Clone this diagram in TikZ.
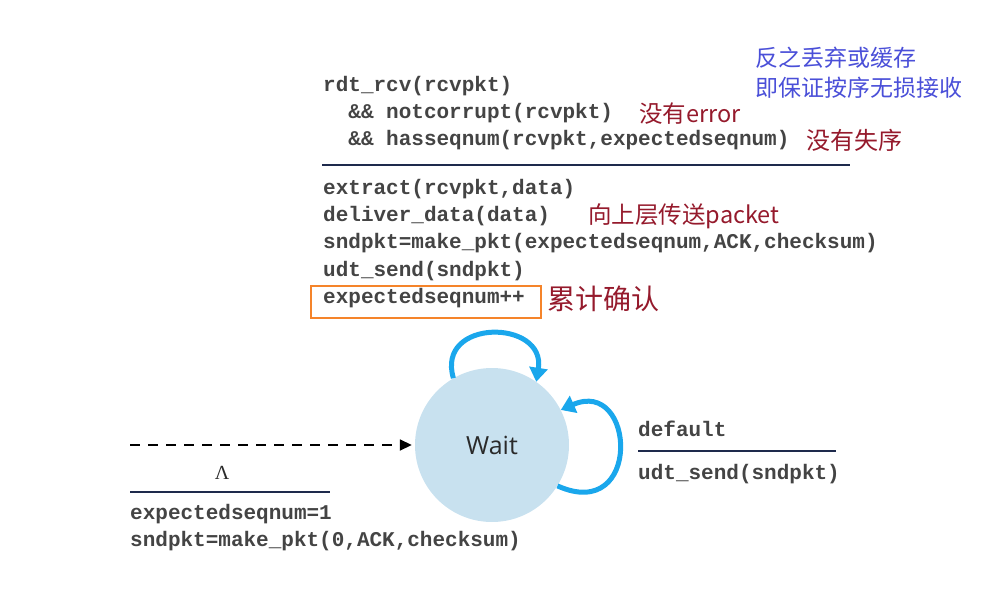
\documentclass[tikz,border=0pt]{standalone}
\usepackage{fontspec}
\usepackage{tikz}
\usetikzlibrary{
  arrows.meta,
  positioning,
  calc
}
\newfontfamily\codefont{Liberation Mono}[BoldFont={Liberation Mono Bold}]
\newfontfamily\cjkfont{Noto Sans CJK SC}
\newfontfamily\waitfont{Open Sans}
\newfontfamily\lamfont{Liberation Serif}
\definecolor{fsmCode}{HTML}{444444}
\definecolor{fsmText}{HTML}{2A2A2A}
\definecolor{fsmRule}{HTML}{1E2A4C}
\definecolor{fsmNote}{HTML}{951A2C}
\definecolor{fsmBlue}{HTML}{4A4FD8}
\definecolor{fsmState}{HTML}{C8E1EF}
\definecolor{fsmLoop}{HTML}{1AA7EC}
\definecolor{fsmMark}{HTML}{F5842A}
\tikzset{
  code/.style={
    font=\codefont\bfseries\fontsize{21}{25}\selectfont, text=fsmCode,
    inner sep=0pt, text height=15pt, text depth=5pt
  },
  codeline/.style={code, anchor=north west},
  note/.style={font=\cjkfont\fontsize{#1}{#1}\selectfont, text=fsmNote, inner sep=0pt, anchor=west},
  bluenote/.style={font=\cjkfont\fontsize{23}{30}\selectfont, text=fsmBlue, inner sep=0pt, align=left},
  state/.style={circle, fill=fsmState, minimum size=154pt, inner sep=0pt,
    font=\waitfont\fontsize{25}{30}\selectfont, text=fsmText},
  rule/.style={line width=1.8pt, fsmRule},
  selfloop/.style={-{Triangle[length=14pt,width=18pt]}, line width=5pt, fsmLoop},
  initarrow/.style={-{Triangle[length=12pt,width=11pt]}, line width=1.8pt, black,
    dash pattern=on 10pt off 8pt, shorten >=3pt},
  hilite/.style={draw=fsmMark, line width=2.5pt}
}
\begin{document}
\begin{tikzpicture}[x=1pt, y=-1pt, node distance=7pt]
  \useasboundingbox (0,0) rectangle (1007,589);

  % guard of the self loop
  \node[code, anchor=west] (rcv) at (323,86) {rdt\_rcv(rcvpkt)};
  \node[codeline, below=of rcv.south west, anchor=north west] (notcor) {\phantom{xx}\&\& notcorrupt(rcvpkt)};
  \node[codeline, below=of notcor.south west, anchor=north west] (hasseq) {\phantom{xx}\&\& hasseqnum(rcvpkt,expectedseqnum)};
  \draw[rule] (322,165) -- (850,165);

  % actions
  \node[code, anchor=west] (extract) at (323,189) {extract(rcvpkt,data)};
  \node[codeline, below=of extract.south west, anchor=north west] (deliver) {deliver\_data(data)};
  \node[codeline, below=of deliver.south west, anchor=north west] (mkpkt) {sndpkt=make\_pkt(expectedseqnum,ACK,checksum)};
  \node[codeline, below=of mkpkt.south west, anchor=north west] (udt) {udt\_send(sndpkt)};
  \node[codeline, below=of udt.south west, anchor=north west] (expinc) {expectedseqnum++};
  \draw[hilite] (311,286) rectangle (541,318);

  % notes
  \node[note=23.5, right=26pt of notcor] (noerr) {没有error};
  \node[note=24, right=17pt of hasseq] (noloss) {没有失序};
  \node[note=23.5, right=38pt of deliver] (upward) {向上层传送packet};
  \node[note=28, right=22pt of expinc] (cumack) {累计确认};
  \node[bluenote, anchor=north west] (drop) at (755,47) {反之丢弃或缓存\\即保证按序无损接收};

  % state
  \node[state] (wait) at (492,445) {Wait};
  \draw[selfloop] (wait.120) .. controls +(-18,-60) and +(10,-63) .. (wait.55);
  \draw[selfloop] (wait.-32) .. controls +(85,38) and +(75,-33) .. (wait.27);

  % initial transition
  \coordinate (start) at (130,445);
  \draw[initarrow] (start) -- (wait.west);
  \node[font=\lamfont\fontsize{20}{24}\selectfont, text=fsmText] (lam) at (222,473) {Λ};
  \draw[rule] (130,492) -- (330,492);
  \node[code, anchor=west] (initseq) at (130,514) {expectedseqnum=1};
  \node[codeline, below=of initseq.south west, anchor=north west] (initpkt) {sndpkt=make\_pkt(0,ACK,checksum)};

  % default transition
  \node[code, anchor=west] (dflt) at (638,431) {default};
  \draw[rule] (638,451) -- (836,451);
  \node[code, anchor=west] (resend) at (638,474) {udt\_send(sndpkt)};
\end{tikzpicture}
\end{document}
